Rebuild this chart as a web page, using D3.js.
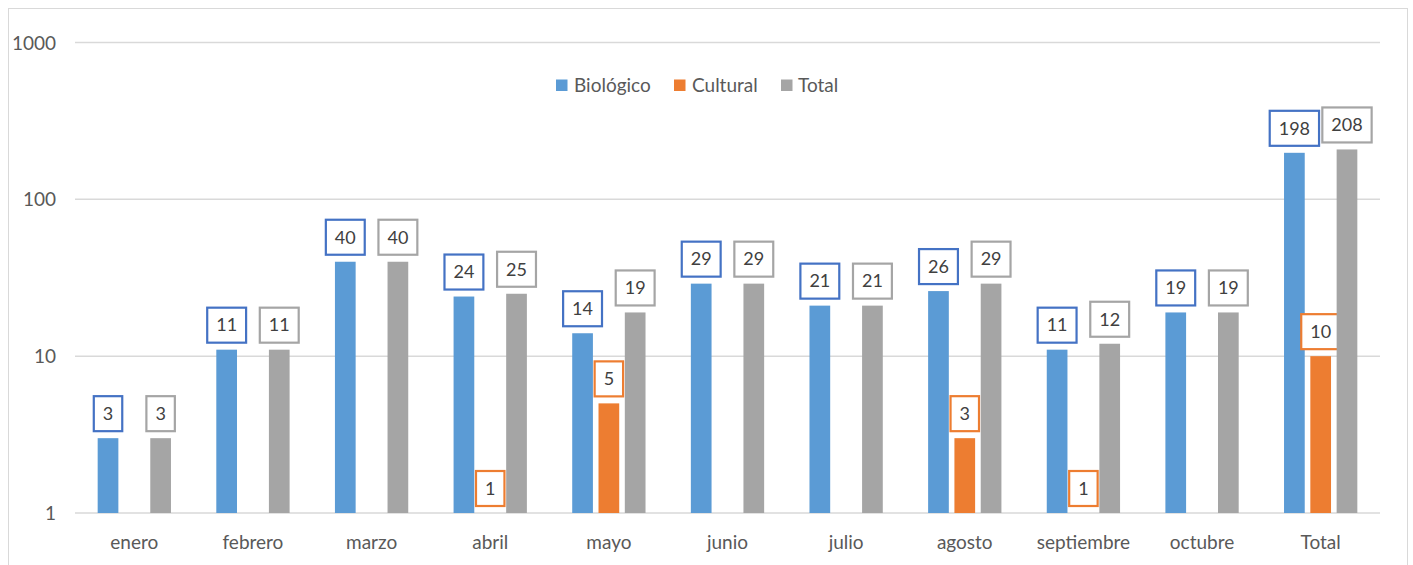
<!DOCTYPE html>
<html><head><meta charset="utf-8">
<script src="https://cdn.jsdelivr.net/npm/d3@7"></script>
<style>body{margin:0;background:#fff;} svg{display:block;}</style>
</head><body>
<svg id="chart" width="1413" height="565"></svg>
<script>
const categories = ["enero","febrero","marzo","abril","mayo","junio","julio","agosto","septiembre","octubre","Total"];
const biologico = [3,11,40,24,14,29,21,26,11,19,198];
const cultural  = [null,null,null,1,5,null,null,3,1,null,10];
const total     = [3,11,40,25,19,29,21,29,12,19,208];
const seriesNames = ["Biológico","Cultural","Total"];
const yTicks = [1,10,100,1000];

(function(){
const series = [
  {name: seriesNames[0], values: biologico, fill: "#5B9BD5", stroke: "#4472C4"},
  {name: seriesNames[1], values: cultural,  fill: "#ED7D31", stroke: "#ED7D31"},
  {name: seriesNames[2], values: total,     fill: "#A5A5A5", stroke: "#A5A5A5"}
];

const svg = d3.select("#chart");
const font = "Lato, 'Open Sans', sans-serif";
const textColor = "#595959";

svg.append("rect").attr("x",8.5).attr("y",8.5).attr("width",1399).attr("height",570)
  .attr("fill","none").attr("stroke","#d9d9d9").attr("stroke-width",1);

const pLeft = 75, pRight = 1380, pTop = 42.5, pBottom = 513;
const x = d3.scaleBand().domain(categories).range([pLeft,pRight]).paddingInner(0).paddingOuter(0);
const y = d3.scaleLog().domain([1,1000]).range([pBottom, pTop]);
const barW = 20.7, step = 26.3;

svg.append("g").selectAll("line").data(yTicks).join("line")
  .attr("x1",pLeft).attr("x2",pRight)
  .attr("y1",d=>y(d)).attr("y2",d=>y(d))
  .attr("stroke","#d9d9d9").attr("stroke-width",1.5);

const yAxis = d3.axisLeft(y).tickValues(yTicks).tickFormat(d3.format("d")).tickSize(0).tickPadding(0);
const gy = svg.append("g").attr("transform",`translate(56,0)`).call(yAxis);
gy.select(".domain").remove();
gy.selectAll("text").attr("font-family",font).attr("font-size",19).attr("fill",textColor).attr("dy","0.35em");

const xAxis = d3.axisBottom(x).tickSize(0).tickPadding(0);
const gx = svg.append("g").attr("transform",`translate(0,${pBottom})`).call(xAxis);
gx.select(".domain").remove();
gx.selectAll("text").attr("font-family",font).attr("font-size",19).attr("fill",textColor).attr("y",29).attr("dy","0.35em");

series.forEach((s,si)=>{
  const off = (si-1)*step;
  const data = s.values.map((v,i)=>({v, c: categories[i]})).filter(d=>d.v!=null);
  const g = svg.append("g");
  g.selectAll("rect").data(data).join("rect")
    .attr("x",d=>x(d.c)+x.bandwidth()/2+off-barW/2)
    .attr("width",barW)
    .attr("y",d=>y(d.v))
    .attr("height",d=>pBottom-y(d.v))
    .attr("fill",s.fill);
  const lg = svg.append("g");
  data.forEach(d=>{
    const cx = x(d.c)+x.bandwidth()/2+off;
    const t = lg.append("text").text(d.v)
      .attr("font-family",font).attr("font-size",18).attr("fill","#404040")
      .attr("text-anchor","middle").attr("x",cx);
    const w = t.node().getComputedTextLength()+18;
    const h = 35;
    const by = y(d.v)-7-h;
    lg.insert("rect","text").attr("x",cx-w/2).attr("y",by).attr("width",w).attr("height",h)
      .attr("fill","#fff").attr("stroke",s.stroke).attr("stroke-width",2.2);
    t.attr("y",by+h/2).attr("dy","0.35em");
  });
});

const legendItems = [{x:556, tx:574},{x:674, tx:692},{x:781, tx:798}];
series.forEach((s,i)=>{
  svg.append("rect").attr("x",legendItems[i].x).attr("y",79.5).attr("width",11.5).attr("height",11.5).attr("fill",s.fill);
  svg.append("text").attr("x",legendItems[i].tx).attr("y",85).attr("dy","0.35em")
    .attr("font-family",font).attr("font-size",19).attr("fill",textColor).text(s.name);
});
})();
</script>
</body></html>
